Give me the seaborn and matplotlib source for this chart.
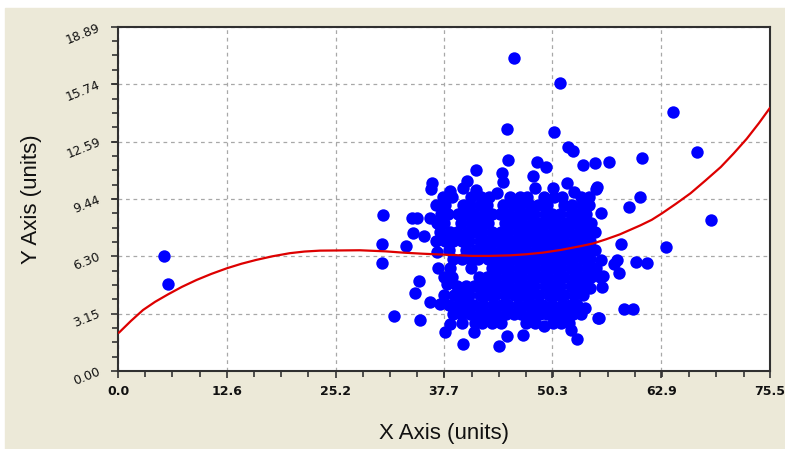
#!/usr/bin/env python

import numpy as np
import pandas as pd
import matplotlib
matplotlib.use("Agg")
import matplotlib.pyplot as plt
from matplotlib.patches import Rectangle
from matplotlib.ticker import AutoMinorLocator
import seaborn as sns

### ==================== DATA ==================== ###

# loose points around the edge of the cloud (x, y)
edge_x = [5.3, 5.8,
          30.7, 30.6, 30.6, 32.0,
          45.9, 51.2, 45.1, 50.5, 52.1, 52.7,
          53.8, 55.2, 56.8, 60.7,
          64.3, 67.0, 68.7, 63.5,
          55.3, 60.5, 59.2, 55.9,
          58.2, 55.9, 57.8, 60.0, 61.3, 57.4, 56.2, 58.0,
          54.6, 56.0, 58.6, 59.6, 54.1, 55.6,
          45.2, 48.5, 49.6, 41.5, 36.4, 36.2, 40.4, 44.5, 44.6,
          48.1, 48.3, 55.5, 50.4, 52.0, 52.8, 38.5, 40.0, 41.4, 43.9,
          34.0, 34.6, 36.1, 34.2, 35.4, 33.4, 36.9, 37.1,
          34.9, 34.4, 38.1, 36.1, 37.3, 35.0, 38.5, 37.9,
          40.0, 44.1, 45.1, 46.9, 49.3, 52.4, 53.2, 41.2, 55.7]
edge_y = [6.3, 4.75,
          8.55, 7.0, 5.95, 3.0,
          17.2, 15.8, 13.3, 13.1, 12.3, 12.1,
          11.3, 11.4, 11.5, 11.7,
          14.2, 12.0, 8.3, 6.8,
          10.0, 9.55, 9.0, 8.65,
          7.0, 6.1, 6.1, 6.0, 5.95, 5.85, 5.2, 5.4,
          4.55, 4.6, 3.4, 3.4, 3.45, 2.9,
          11.6, 11.5, 11.2, 11.05, 10.3, 10.0, 10.45, 10.85, 10.4,
          10.7, 10.05, 10.1, 10.05, 10.3, 9.85, 9.9, 10.05, 9.95, 9.75,
          8.4, 8.4, 8.4, 7.6, 7.4, 6.85, 6.55, 5.65,
          4.95, 4.3, 4.8, 3.8, 3.7, 2.8, 2.6, 2.15,
          1.5, 1.35, 1.9, 2.0, 2.45, 2.25, 1.75, 2.15, 2.9]

# the dense middle of the cloud, one row of x values per y level
core_rows = [
    (9.55, [37.6, 38.7, 40.9, 42.0, 43.0, 45.4, 46.5, 47.4, 49.3, 50.5, 51.4, 53.6, 54.5]),
    (9.1, [36.8, 37.9, 39.9, 40.8, 41.9, 42.7, 44.6, 45.7, 46.6, 47.7, 48.6, 49.7, 51.7, 52.6, 53.7, 54.5]),
    (8.6, [37.4, 38.2, 39.4, 40.3, 41.2, 42.4, 43.3, 44.2, 45.3, 46.4, 47.3, 48.2, 49.4, 50.3, 51.2, 52.4, 53.3, 54.2]),
    (8.15, [36.9, 37.8, 39.7, 40.9, 41.8, 42.8, 44.8, 45.9, 46.8, 47.9, 48.7, 49.8, 50.7, 51.9, 52.8, 53.9, 54.8]),
    (7.65, [37.3, 38.4, 39.3, 40.4, 41.3, 42.2, 43.3, 44.4, 45.2, 46.3, 47.4, 48.3, 49.2, 50.4, 51.3, 52.2, 53.4, 54.3, 55.2]),
    (7.15, [36.8, 37.9, 38.8, 39.8, 40.7, 41.9, 42.8, 43.9, 44.8, 45.8, 46.9, 47.8, 48.9, 49.8, 50.8, 51.7, 52.8, 53.8, 54.7]),
    (6.65, [38.3, 40.3, 41.4, 42.3, 43.2, 44.3, 45.4, 46.2, 47.3, 48.4, 49.3, 50.2, 51.3, 52.4, 53.3, 54.2, 55.2]),
    (6.15, [38.8, 39.8, 40.8, 41.7, 42.8, 43.8, 44.7, 45.8, 46.8, 47.7, 48.8, 49.7, 50.8, 51.8, 52.7, 53.8, 54.6]),
    (5.65, [38.4, 40.9, 43.3, 44.2, 45.3, 46.4, 47.2, 48.3, 49.4, 50.2, 51.3, 52.4, 53.2, 54.3, 55.3]),
    (5.15, [37.8, 38.7, 41.8, 42.7, 43.8, 44.9, 45.7, 46.8, 47.9, 48.7, 49.8, 50.9, 51.7, 52.8, 53.9, 54.8, 55.8]),
    (4.65, [39.3, 40.3, 41.2, 42.4, 43.3, 44.2, 45.3, 46.4, 47.3, 48.2, 49.4, 50.3, 51.2, 52.4, 53.3, 54.2]),
    (4.15, [37.8, 38.9, 39.8, 40.7, 41.9, 42.8, 43.7, 44.8, 45.9, 46.8, 47.7, 48.8, 49.9, 50.8, 51.7, 52.8, 53.8]),
    (3.65, [38.3, 39.4, 40.3, 41.2, 42.3, 43.4, 44.3, 45.2, 46.3, 47.4, 48.3, 49.2, 50.3, 51.4, 52.3, 53.2]),
    (3.15, [38.8, 39.7, 40.8, 41.9, 42.7, 43.8, 44.9, 45.8, 46.7, 47.8, 48.9, 49.7, 50.8, 51.9, 52.7, 53.6]),
    (2.65, [39.8, 41.3, 42.2, 43.3, 44.4, 47.2, 48.3, 50.4, 51.3, 52.2]),
]

# red fitted curve, sampled along its length
curve_x = [0.1, 1.5, 2.9, 4.3, 5.8, 7.4, 9.1, 10.8, 12.6, 14.3, 16.0, 17.9, 19.9,
           21.6, 23.4, 28.0, 31.0, 33.0, 35.3, 37.7, 41.0, 43.0, 45.4, 47.3, 49.2,
           51.3, 53.5, 55.0, 56.5, 58.1, 60.5, 61.8, 63.0, 64.6, 66.3, 68.0, 69.8,
           71.3, 72.8, 74.2, 75.5]
curve_y = [2.10, 2.75, 3.35, 3.80, 4.21, 4.62, 5.00, 5.33, 5.64, 5.89, 6.10, 6.30, 6.47,
           6.56, 6.61, 6.63, 6.57, 6.50, 6.44, 6.39, 6.32, 6.32, 6.35, 6.41, 6.50,
           6.65, 6.85, 7.00, 7.23, 7.50, 8.00, 8.30, 8.66, 9.18, 9.76, 10.45, 11.20,
           11.95, 12.75, 13.60, 14.45]

x_ticks = [0.0, 12.6, 25.2, 37.7, 50.3, 62.9, 75.5]
y_ticks = [0.00, 3.15, 6.30, 9.44, 12.59, 15.74, 18.89]
x_tick_labels = ["0.0", "12.6", "25.2", "37.7", "50.3", "62.9", "75.5"]
y_tick_labels = ["0.00", "3.15", "6.30", "9.44", "12.59", "15.74", "18.89"]

### ==================== BUILD FRAMES ==================== ###

cloud_x = list(edge_x)
cloud_y = list(edge_y)
for row_y, xs in core_rows:
    cloud_x += xs
    cloud_y += [row_y] * len(xs)

points_df = pd.DataFrame({"x": cloud_x, "y": cloud_y})
curve_df = pd.DataFrame({"x": curve_x, "y": curve_y})

### ==================== PLOT ==================== ###

sns.set_style("white")
plt.rcParams["font.family"] = ["DejaVu Sans"]

fig = plt.figure(figsize=(7.85, 4.49), dpi=100, facecolor="white")
# beige panel behind everything (thin white strip on top and left like the original)
panel = Rectangle((5 / 785, 0), 1, (449 - 8) / 449, transform=fig.transFigure,
                  color="#ECE9D8", zorder=-10)
fig.patches.append(panel)

ax = fig.add_axes([118 / 785, 78 / 449, 652 / 785, 344 / 449])
ax.set_facecolor("white")
ax.set_zorder(5)

sns.scatterplot(data=points_df, x="x", y="y", ax=ax, color="#0000FF",
                edgecolor="#0000FF", s=80, linewidth=0, zorder=3, legend=False)
sns.lineplot(data=curve_df, x="x", y="y", ax=ax, color="#DD0000", linewidth=1.6,
             sort=False, estimator=None, zorder=4)

ax.set_xlim(0, 75.5)
ax.set_ylim(0, 18.89)

ax.set_xticks(x_ticks)
ax.set_xticklabels(x_tick_labels, fontsize=9, fontweight="bold", color="#111111")
ax.set_yticks(y_ticks)
ax.set_yticklabels(y_tick_labels, fontsize=9, color="#111111",
                   rotation=22, rotation_mode="anchor", ha="right", va="center")
ax.xaxis.set_minor_locator(AutoMinorLocator(4))
ax.yaxis.set_minor_locator(AutoMinorLocator(4))
ax.tick_params(axis="both", which="major", direction="out", length=5, width=1.2,
               color="#333333", left=True, bottom=True)
ax.tick_params(axis="both", which="minor", direction="out", length=4, width=1.2,
               color="#333333", left=True, bottom=True)
ax.tick_params(axis="x", which="major", pad=5)
ax.tick_params(axis="y", which="major", pad=8)

# dashed grey grid on the major ticks
ax.grid(True, which="major", color="#A8A8A8", linestyle=(0, (3, 3)), linewidth=0.9)
ax.set_axisbelow(True)

for side in ["left", "bottom", "top", "right"]:
    ax.spines[side].set_color("#303030")
    ax.spines[side].set_linewidth(1.5)

# axis titles in an Arial-like face, as in the original
ax.set_xlabel("X Axis (units)", fontsize=16, color="#111111", family="Liberation Sans")
ax.set_ylabel("Y Axis (units)", fontsize=16, color="#111111", family="Liberation Sans")
ax.xaxis.set_label_coords(0.5, -0.151)
ax.yaxis.set_label_coords(-0.117, 0.5)

fig.savefig("out.png", dpi=100, facecolor=fig.get_facecolor())
